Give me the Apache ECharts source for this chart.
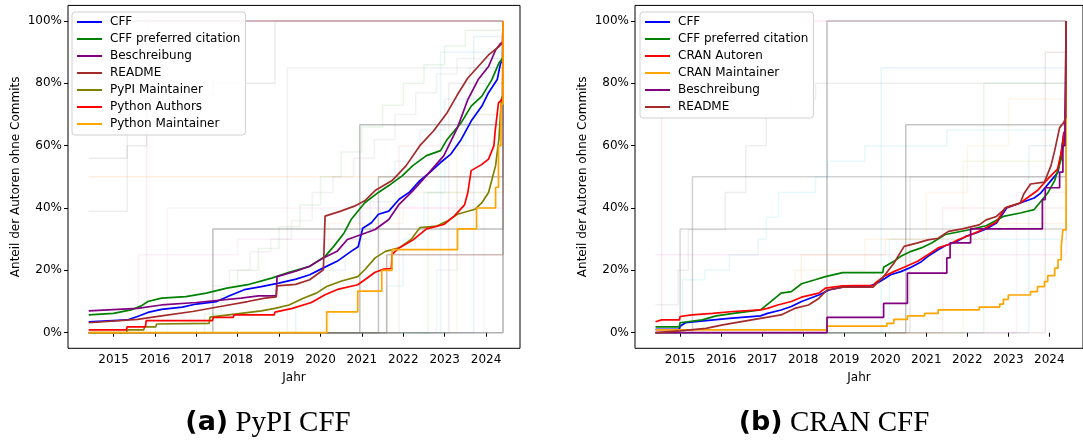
<!DOCTYPE html>
<html>
<head>
<meta charset="utf-8">
<script src="https://cdn.jsdelivr.net/npm/echarts@6/dist/echarts.min.js"></script>
<style>
  html, body { margin: 0; padding: 0; background: #fff; }
  #chart { width: 1083px; height: 445px; }
</style>
</head>
<body>
<div id="chart"></div>
<script>
// tick labels
const years = [2015, 2016, 2017, 2018, 2019, 2020, 2021, 2022, 2023, 2024];
const shares = [0, 0.2, 0.4, 0.6, 0.8, 1.0];

// (a) PyPI CFF – [Jahr, Anteil]
const pypiNames = ['CFF', 'CFF preferred citation', 'Beschreibung', 'README', 'PyPI Maintainer', 'Python Authors', 'Python Maintainer'];
const pypiCff = [[2014.4,0.035],[2015.33,0.041],[2015.58,0.052],[2015.83,0.065],[2016.16,0.075],[2016.66,0.082],[2017.0,0.092],[2017.49,0.1],[2017.83,0.12],[2018.16,0.138],[2018.57,0.148],[2018.99,0.159],[2019.41,0.172],[2019.74,0.186],[2020.07,0.208],[2020.4,0.229],[2020.74,0.261],[2020.91,0.276],[2021.02,0.335],[2021.23,0.353],[2021.4,0.38],[2021.65,0.39],[2021.9,0.428],[2022.15,0.451],[2022.4,0.488],[2022.65,0.515],[2022.9,0.546],[2023.15,0.573],[2023.4,0.62],[2023.64,0.679],[2023.9,0.727],[2024.06,0.77],[2024.27,0.812],[2024.35,0.865],[2024.4,0.87],[2024.41,1]];
const pypiPreferred = [[2014.4,0.057],[2015.0,0.062],[2015.42,0.073],[2015.67,0.086],[2015.83,0.1],[2016.16,0.111],[2016.75,0.116],[2017.24,0.127],[2017.74,0.143],[2018.24,0.154],[2018.82,0.175],[2019.24,0.194],[2019.74,0.213],[2020.11,0.245],[2020.32,0.277],[2020.57,0.32],[2020.74,0.363],[2021.07,0.417],[2021.4,0.45],[2021.65,0.472],[2021.98,0.504],[2022.23,0.536],[2022.56,0.568],[2022.9,0.584],[2023.06,0.62],[2023.4,0.674],[2023.64,0.727],[2023.9,0.759],[2024.14,0.812],[2024.31,0.865],[2024.4,0.88],[2024.41,1]];
const pypiDescription = [[2014.4,0.07],[2015.58,0.078],[2016.16,0.089],[2017.0,0.097],[2018.08,0.111],[2018.5,0.118],[2018.93,0.118],[2018.95,0.18],[2019.4,0.197],[2019.74,0.213],[2020.07,0.24],[2020.4,0.261],[2020.65,0.299],[2020.99,0.315],[2021.32,0.331],[2021.65,0.363],[2021.9,0.412],[2022.23,0.455],[2022.56,0.504],[2022.98,0.568],[2023.31,0.658],[2023.56,0.748],[2023.81,0.812],[2024.06,0.854],[2024.23,0.907],[2024.35,0.928],[2024.4,0.93],[2024.41,1]];
const pypiReadme = [[2014.4,0.032],[2015.58,0.043],[2016.16,0.054],[2016.91,0.068],[2017.58,0.084],[2018.24,0.1],[2018.66,0.111],[2018.93,0.115],[2018.95,0.15],[2019.4,0.155],[2019.74,0.17],[2020.07,0.202],[2020.11,0.374],[2020.49,0.39],[2020.82,0.406],[2021.07,0.423],[2021.32,0.456],[2021.73,0.488],[2022.07,0.536],[2022.4,0.6],[2022.73,0.647],[2023.06,0.706],[2023.31,0.764],[2023.56,0.817],[2023.81,0.854],[2024.06,0.891],[2024.31,0.918],[2024.4,0.93],[2024.41,1]];
const pypiMaintainer = [[2014.4,0],[2015.31,0],[2015.33,0.009],[2015.73,0.009],[2015.75,0.019],[2016.02,0.019],[2016.04,0.028],[2017.31,0.03],[2017.33,0.05],[2018.08,0.062],[2018.57,0.07],[2018.9,0.078],[2019.24,0.089],[2019.57,0.11],[2019.9,0.127],[2020.15,0.148],[2020.49,0.165],[2020.9,0.18],[2021.07,0.202],[2021.32,0.24],[2021.57,0.261],[2021.9,0.272],[2022.19,0.299],[2022.4,0.337],[2022.81,0.342],[2023.06,0.358],[2023.31,0.38],[2023.73,0.396],[2023.9,0.417],[2024.06,0.45],[2024.23,0.536],[2024.31,0.62],[2024.37,0.75],[2024.4,0.76],[2024.41,1]];
const pythonAuthors = [[2014.4,0.009],[2015.31,0.009],[2015.33,0.019],[2015.77,0.019],[2015.79,0.039],[2017.39,0.039],[2017.41,0.049],[2017.89,0.049],[2017.91,0.057],[2018.88,0.057],[2018.9,0.066],[2019.32,0.078],[2019.78,0.097],[2020.11,0.122],[2020.44,0.14],[2020.9,0.154],[2021.07,0.17],[2021.32,0.194],[2021.53,0.204],[2021.71,0.206],[2021.73,0.251],[2021.9,0.272],[2022.23,0.297],[2022.56,0.333],[2022.98,0.347],[2023.23,0.374],[2023.48,0.41],[2023.56,0.45],[2023.64,0.52],[2023.9,0.54],[2024.06,0.557],[2024.19,0.6],[2024.22,0.647],[2024.3,0.737],[2024.4,0.75],[2024.41,1]];
const pythonMaintainer = [[2014.4,0],[2020.15,0.0667],[2020.9,0.1333],[2021.48,0.2],[2021.73,0.2667],[2023.31,0.3333],[2023.77,0.4],[2024.23,0.4667],[2024.3,0.6],[2024.36,0.7333],[2024.41,1]];
const pypiMain = [pypiCff, pypiPreferred, pypiDescription, pypiReadme, pypiMaintainer, pythonAuthors, pythonMaintainer];
const pypiStep = [false, false, false, false, false, false, true];

// (b) CRAN CFF – [Jahr, Anteil]
const cranNames = ['CFF', 'CFF preferred citation', 'CRAN Autoren', 'CRAN Maintainer', 'Beschreibung', 'README'];
const cranCff = [[2014.4,0.011],[2014.98,0.011],[2015.0,0.021],[2015.13,0.032],[2015.63,0.039],[2016.2,0.046],[2016.96,0.054],[2017.13,0.062],[2017.46,0.073],[2017.71,0.084],[2017.96,0.1],[2018.38,0.121],[2018.63,0.137],[2018.96,0.146],[2019.63,0.15],[2019.83,0.161],[2020.0,0.175],[2020.13,0.186],[2020.38,0.196],[2020.63,0.21],[2020.88,0.228],[2021.04,0.245],[2021.29,0.266],[2021.46,0.279],[2021.75,0.293],[2021.96,0.309],[2022.21,0.32],[2022.46,0.333],[2022.71,0.352],[2022.96,0.4],[2023.29,0.416],[2023.63,0.432],[2023.79,0.448],[2024.04,0.488],[2024.21,0.515],[2024.29,0.578],[2024.35,0.64],[2024.4,0.65],[2024.41,1]];
const cranPreferred = [[2014.4,0.019],[2014.98,0.019],[2015.0,0.032],[2015.54,0.041],[2015.88,0.054],[2016.3,0.062],[2016.96,0.073],[2017.21,0.1],[2017.46,0.127],[2017.71,0.132],[2017.96,0.157],[2018.29,0.17],[2018.54,0.18],[2018.96,0.193],[2019.94,0.193],[2019.96,0.21],[2020.21,0.229],[2020.38,0.245],[2020.63,0.261],[2020.88,0.272],[2021.13,0.288],[2021.46,0.315],[2021.96,0.328],[2022.46,0.343],[2022.88,0.373],[2023.29,0.384],[2023.63,0.395],[2023.96,0.448],[2024.13,0.488],[2024.29,0.557],[2024.36,0.62],[2024.4,0.63],[2024.41,1]];
const cranAuthors = [[2014.4,0.035],[2014.55,0.041],[2014.98,0.041],[2015.0,0.052],[2015.29,0.057],[2015.79,0.062],[2016.29,0.068],[2016.96,0.073],[2017.13,0.078],[2017.38,0.089],[2017.71,0.1],[2017.96,0.114],[2018.38,0.127],[2018.54,0.143],[2018.96,0.15],[2019.73,0.152],[2019.75,0.159],[2019.96,0.18],[2020.21,0.196],[2020.46,0.21],[2020.79,0.229],[2021.04,0.25],[2021.29,0.272],[2021.54,0.283],[2021.79,0.299],[2022.04,0.312],[2022.38,0.331],[2022.71,0.355],[2022.92,0.4],[2023.29,0.416],[2023.54,0.44],[2023.71,0.456],[2023.85,0.477],[2024.04,0.504],[2024.2,0.525],[2024.29,0.578],[2024.36,0.642],[2024.4,0.65],[2024.41,1]];
const cranMaintainer = [[2014.4,0.009],[2018.58,0.021],[2020.04,0.03],[2020.21,0.043],[2020.54,0.054],[2020.96,0.062],[2021.29,0.073],[2022.29,0.082],[2022.79,0.092],[2022.88,0.107],[2023.0,0.121],[2023.54,0.132],[2023.71,0.148],[2023.88,0.164],[2023.96,0.183],[2024.13,0.207],[2024.21,0.234],[2024.29,0.277],[2024.33,0.33],[2024.41,1]];
const cranDescription = [[2014.4,0],[2018.58,0.049],[2019.96,0.094],[2020.54,0.191],[2021.5,0.24],[2021.58,0.288],[2022.08,0.333],[2023.83,0.427],[2023.9,0.465],[2024.25,0.515],[2024.33,0.6],[2024.38,0.706],[2024.41,1]];
const cranReadme = [[2014.4,0],[2015.0,0.006],[2015.63,0.014],[2016.04,0.025],[2016.46,0.035],[2016.96,0.046],[2017.46,0.057],[2017.79,0.078],[2018.13,0.089],[2018.38,0.11],[2018.58,0.137],[2018.96,0.146],[2019.7,0.146],[2019.96,0.18],[2020.21,0.223],[2020.46,0.277],[2020.79,0.288],[2021.04,0.298],[2021.29,0.303],[2021.54,0.325],[2021.88,0.333],[2022.29,0.346],[2022.46,0.362],[2022.71,0.373],[2022.96,0.403],[2023.29,0.416],[2023.38,0.446],[2023.54,0.477],[2023.88,0.483],[2024.04,0.536],[2024.13,0.584],[2024.25,0.658],[2024.35,0.674],[2024.4,0.69],[2024.41,1]];
const cranMain = [cranCff, cranPreferred, cranAuthors, cranMaintainer, cranDescription, cranReadme];
const cranStep = [false, false, false, true, true, false];

// einzelne Projekte im Hintergrund (blass)
const pypiProjects = [
  [[2014.4,0.56],[2015.33,0.6],[2015.8,0.73],[2016.6,0.76],[2017.4,0.8],[2018.9,1],[2024.41,1]],
  [[2014.4,0.39],[2015.33,1],[2024.41,1]],
  [[2014.4,0.5],[2024.41,1]],
  [[2014.4,1],[2024.41,1]],
  [[2014.4,0],[2017.4,0.333],[2024.41,1]],
  [[2014.4,0],[2020.95,0.667],[2024.41,1]],
  [[2014.4,0],[2021.4,0.5],[2024.41,1]],
  [[2014.4,0],[2021.6,0.25],[2024.41,1]],
  [[2016.9,0],[2017.2,0.06],[2017.6,0.12],[2018.0,0.2],[2018.5,0.27],[2019.0,0.34],[2019.5,0.41],[2020.0,0.5],[2020.5,0.58],[2021.0,0.66],[2021.5,0.73],[2022.0,0.8],[2022.5,0.86],[2023.0,0.92],[2023.5,0.97],[2024.41,1]],
  [[2017.4,0.15],[2017.8,0.2],[2018.3,0.26],[2018.8,0.3],[2019.3,0.36],[2019.8,0.45],[2020.3,0.5],[2020.8,0.56],[2021.3,0.62],[2021.8,0.7],[2022.3,0.77],[2022.8,0.83],[2023.3,0.88],[2024.41,1]],
  [[2019.0,0],[2019.4,0.1],[2020.0,0.2],[2020.6,0.3],[2021.2,0.42],[2021.8,0.55],[2022.4,0.65],[2023.0,0.75],[2023.6,0.85],[2024.41,1]],
  [[2021.1,0],[2021.6,0.15],[2022.0,0.3],[2022.5,0.45],[2023.0,0.6],[2023.5,0.75],[2024.0,0.88],[2024.41,1]],
  [[2015.5,0],[2015.6,0.25],[2018.0,0.3],[2021.0,0.4],[2024.41,1]],
  [[2019.8,0],[2020.2,0.35],[2021.6,0.35],[2022.0,0.45],[2024.41,1]],
  [[2022.3,0],[2022.8,0.2],[2023.3,0.5],[2023.8,0.7],[2024.41,1]],
  [[2020.1,0],[2024.41,1]],
  [[2014.4,0],[2015.8,1],[2024.41,1]],
  [[2014.4,0],[2019.2,0.85],[2024.41,1]],
  [[2014.4,0],[2022.9,0.9],[2024.41,1]],
  [[2014.4,0],[2023.3,0.7],[2024.41,1]],
  [[2014.4,0],[2023.7,0.95],[2024.41,1]],
  [[2014.4,0],[2021.9,0.6],[2024.41,1]],
  [[2014.4,0],[2022.6,0.45],[2024.41,1]],
  [[2014.4,0],[2023.1,0.8],[2024.41,1]],
  [[2014.4,0],[2023.95,0.5],[2024.41,1]],
  [[2014.4,0],[2016.3,0.4],[2024.41,1]]
];
const cranProjects = [
  [[2014.4,0],[2014.55,1],[2024.41,1]],
  [[2014.4,0],[2018.58,1],[2024.41,1]],
  [[2014.4,0],[2020.5,0.667],[2024.41,1]],
  [[2014.4,0],[2015.3,0.5],[2024.41,1]],
  [[2014.4,0],[2015.0,0.333],[2024.41,1]],
  [[2014.4,0.25],[2024.41,1]],
  [[2014.4,0],[2015.05,0.17],[2015.6,0.2],[2016.2,0.25],[2016.9,0.3],[2017.1,0.37],[2017.4,0.45],[2018.3,0.5],[2018.6,0.55],[2019.5,0.6],[2021.5,0.65],[2024.41,1]],
  [[2014.4,0.09],[2014.95,0.2],[2015.2,0.33],[2016.0,0.33],[2016.1,0.45],[2016.6,0.6],[2017.1,0.7],[2017.7,0.75],[2018.3,0.8],[2024.41,1]],
  [[2017.9,0],[2017.95,0.25],[2020.0,0.3],[2022.5,0.35],[2024.41,1]],
  [[2017.7,0],[2017.8,0.2],[2019.5,0.3],[2021.0,0.45],[2022.0,0.6],[2023.0,0.75],[2024.41,1]],
  [[2014.4,0],[2019.9,0.85],[2024.41,1]],
  [[2014.4,0],[2020.6,0.5],[2024.41,1]],
  [[2014.4,0],[2021.4,0.4],[2024.41,1]],
  [[2014.4,0],[2022.4,0.8],[2024.41,1]],
  [[2014.4,0],[2023.5,0.6],[2024.41,1]],
  [[2014.4,0],[2023.9,0.9],[2024.41,1]],
  [[2014.4,0],[2020.1,0.3],[2024.41,1]],
  [[2014.4,0],[2021.9,0.55],[2024.41,1]],
  [[2014.4,0],[2023.2,0.45],[2024.41,1]]
];

// Farben
const pypiColors = ['blue', 'green', 'purple', 'brown', 'olive', 'red', 'orange'];
const cranColors = ['blue', 'green', 'red', 'orange', 'purple', 'brown'];
const pypiPalette = [
  ['#7f7f7f', 0.16], ['#7f7f7f', 0.13], ['#ff7f0e', 0.12], ['#8c564b', 0.45],
  ['#7f7f7f', 0.5], ['#7f7f7f', 0.5], ['#7f7f7f', 0.45], ['#8c564b', 0.4],
  ['#2ca02c', 0.1], ['#7f7f7f', 0.1], ['#1f77b4', 0.08], ['#17becf', 0.1],
  ['#e377c2', 0.1], ['#ff7f0e', 0.08], ['#9467bd', 0.08], ['#7f7f7f', 0.6],
  ['#e377c2', 0.12], ['#7f7f7f', 0.1], ['#17becf', 0.1], ['#bcbd22', 0.1], ['#1f77b4', 0.1],
  ['#d62728', 0.08], ['#2ca02c', 0.08], ['#8c564b', 0.1], ['#9467bd', 0.08], ['#e377c2', 0.08]
];
const cranPalette = [
  ['#e377c2', 0.16], ['#7f7f7f', 0.5], ['#7f7f7f', 0.45], ['#7f7f7f', 0.35],
  ['#7f7f7f', 0.3], ['#e377c2', 0.13], ['#17becf', 0.1], ['#7f7f7f', 0.13],
  ['#ff7f0e', 0.1], ['#ff7f0e', 0.08], ['#17becf', 0.12], ['#7f7f7f', 0.18],
  ['#d62728', 0.08], ['#2ca02c', 0.1], ['#1f77b4', 0.1], ['#8c564b', 0.15],
  ['#17becf', 0.1], ['#bcbd22', 0.1], ['#e377c2', 0.1]
];

const font = 'DejaVu Sans';
const xMin = 2013.9, xMax = 2024.82, yMin = -0.05, yMax = 1.05;

const chart = echarts.init(document.getElementById('chart'));

const makeXAxis = (gridIndex) => ({
  type: 'value', gridIndex, min: xMin, max: xMax,
  name: 'Jahr', nameLocation: 'middle', nameGap: 24,
  nameTextStyle: { fontFamily: font, fontSize: 12, color: '#000' },
  axisLine: { show: false },
  splitLine: { show: false },
  axisTick: { show: true, length: 4, customValues: years, lineStyle: { color: '#000', width: 1 } },
  axisLabel: { customValues: years, fontFamily: font, fontSize: 12, color: '#000', margin: 6, formatter: v => String(v) }
});

const makeYAxis = (gridIndex) => ({
  type: 'value', gridIndex, min: yMin, max: yMax,
  name: 'Anteil der Autoren ohne Commits', nameLocation: 'middle', nameRotate: 90, nameGap: 46,
  nameTextStyle: { fontFamily: font, fontSize: 12, color: '#000' },
  axisLine: { show: false },
  splitLine: { show: false },
  axisTick: { show: true, length: 4, customValues: shares, lineStyle: { color: '#000', width: 1 } },
  axisLabel: { customValues: shares, fontFamily: font, fontSize: 12, color: '#000', margin: 6, formatter: v => Math.round(v * 100) + '%' }
});

const faint = (list, palette, idx) => list.map((pts, i) => ({
  type: 'line', xAxisIndex: idx, yAxisIndex: idx, data: pts, step: 'end',
  symbol: 'none', silent: true, z: 1,
  lineStyle: { color: palette[i % palette.length][0], opacity: palette[i % palette.length][1], width: 1.5 }
}));

const main = (list, names, colors, steps, idx) => list.map((pts, i) => ({
  type: 'line', name: names[i], xAxisIndex: idx, yAxisIndex: idx, data: pts,
  step: steps[i] ? 'end' : false,
  symbol: 'none', z: 3,
  itemStyle: { color: colors[i] },
  lineStyle: { color: colors[i], width: 1.7 }
}));

const legendBase = {
  orient: 'vertical', top: 12, icon: 'rect', itemWidth: 25, itemHeight: 2, itemGap: 5,
  padding: [4, 5, 5, 5], backgroundColor: 'rgba(255,255,255,0.85)',
  borderColor: '#d0d0d0', borderWidth: 1, borderRadius: 3,
  textStyle: { fontFamily: font, fontSize: 12, color: '#000', padding: [0, 0, 0, 3] },
  selectedMode: false
};

const caption = (tag, title, x) => ({
  type: 'text', x, y: 423,
  style: {
    text: '{b|' + tag + '}{r|\u00a0' + title + '}', align: 'center', verticalAlign: 'middle',
    rich: {
      b: { fontFamily: font, fontWeight: 'bold', fontSize: 27, fill: '#000' },
      r: { fontFamily: 'Liberation Serif', fontSize: 29, fill: '#000' }
    }
  }
});

chart.setOption({
  animation: false,
  backgroundColor: '#fff',
  grid: [
    { left: 68, top: 5.4, width: 452, height: 342.9, show: true, borderColor: '#000', borderWidth: 1, backgroundColor: 'transparent' },
    { left: 635, top: 5.4, width: 452, height: 342.9, show: true, borderColor: '#000', borderWidth: 1, backgroundColor: 'transparent' }
  ],
  xAxis: [makeXAxis(0), makeXAxis(1)],
  yAxis: [makeYAxis(0), makeYAxis(1)],
  legend: [
    Object.assign({}, legendBase, { left: 72, data: pypiNames }),
    Object.assign({}, legendBase, { left: 640, data: cranNames })
  ],
  series: [
    ...faint(pypiProjects, pypiPalette, 0),
    ...faint(cranProjects, cranPalette, 1),
    ...main(pypiMain, pypiNames, pypiColors, pypiStep, 0),
    ...main(cranMain, cranNames, cranColors, cranStep, 1)
  ],
  graphic: [
    caption('(a)', 'PyPI CFF', 268),
    caption('(b)', 'CRAN CFF', 834)
  ]
});
</script>
</body>
</html>
